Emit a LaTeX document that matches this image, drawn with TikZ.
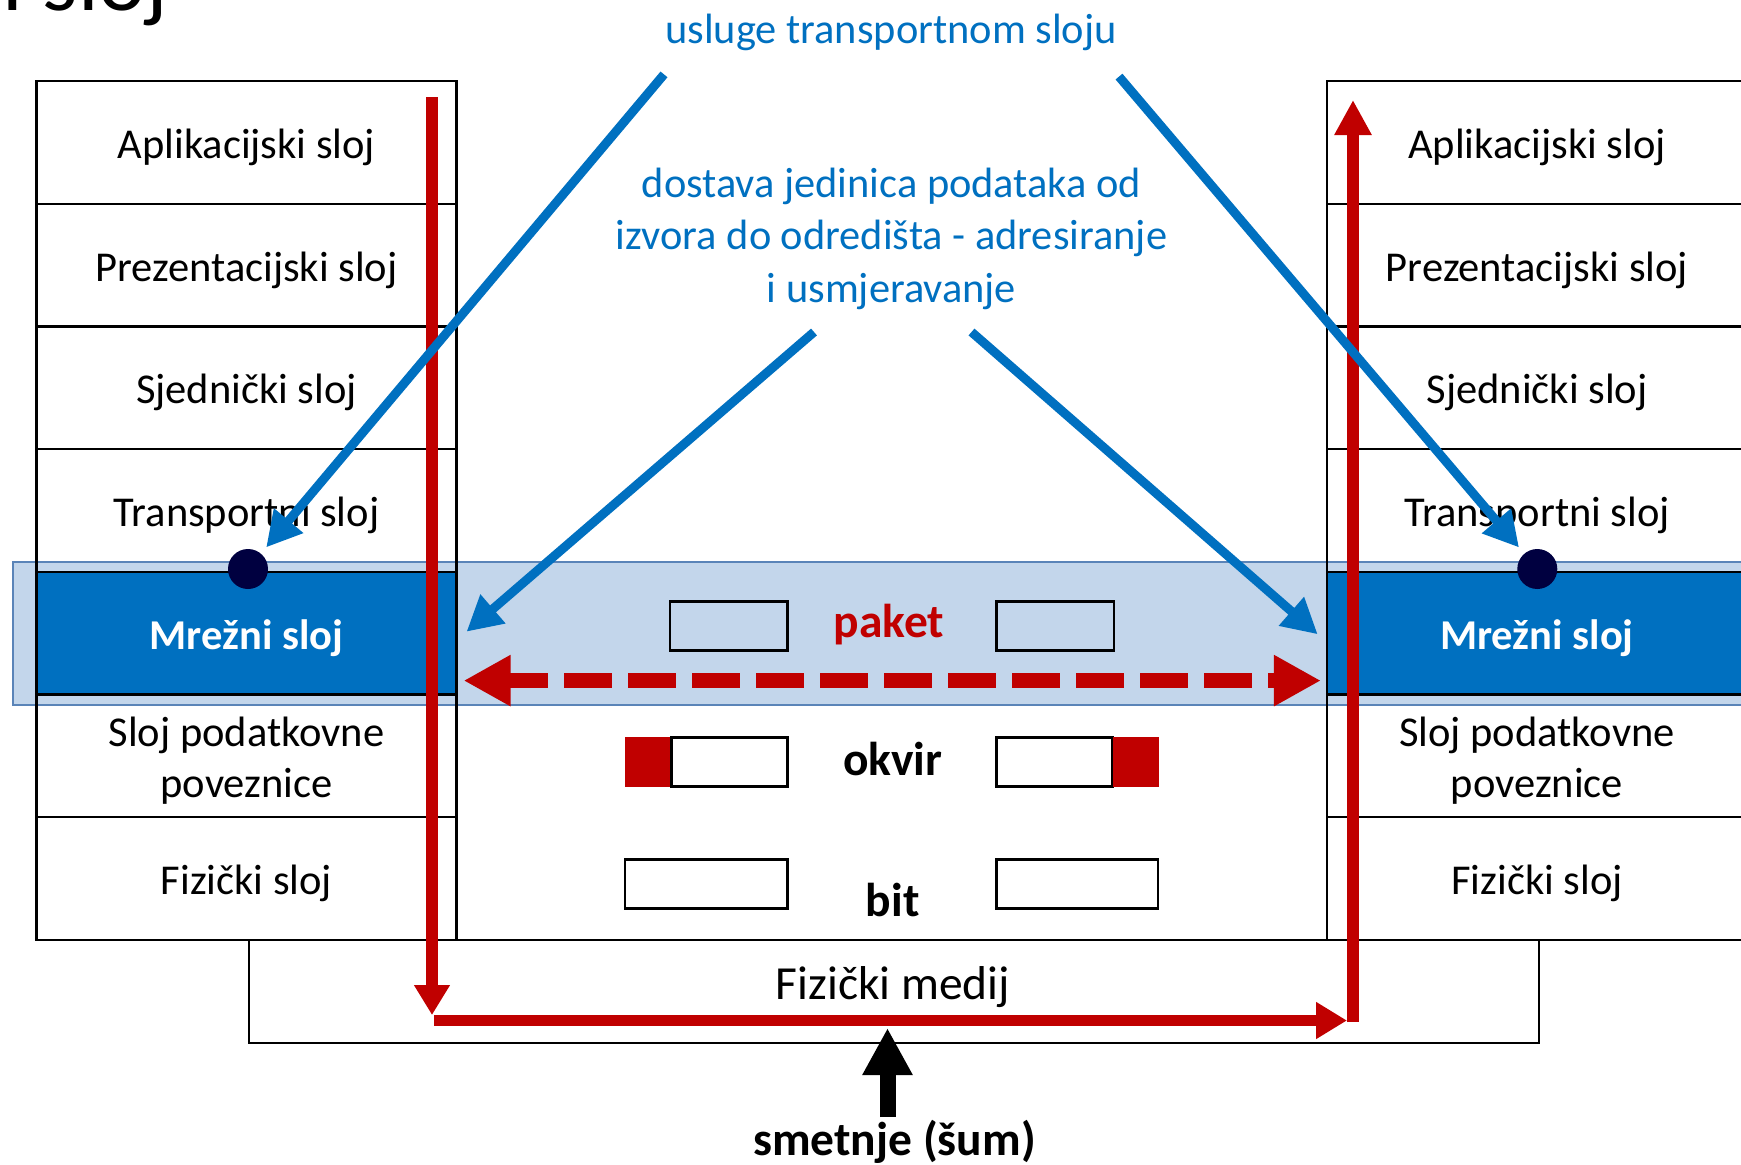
\documentclass[tikz,border=0pt]{standalone}
\usepackage{fontspec}
\setmainfont{Carlito}
\usetikzlibrary{arrows.meta}
\definecolor{cred}{HTML}{C00000}
\definecolor{cblue}{HTML}{0070C0}
\definecolor{cband}{HTML}{C3D6EB}
\definecolor{cbandline}{HTML}{5A84B8}
\definecolor{cnavy}{HTML}{000040}
\begin{document}
\begin{tikzpicture}[x=1pt,y=-1pt,
  layer/.style={draw=black,line width=2.2pt,minimum width=420pt,minimum height=122.7pt,inner sep=0pt,
    font=\fontsize{42.5}{51}\selectfont,align=center},
  oneline/.style={text height=38pt,text depth=5.6pt},
  twoline/.style={font=\fontsize{42.5}{51}\selectfont,align=center,inner sep=0pt},
  netlayer/.style={layer,oneline,fill=cblue,text=white,font=\fontsize{42.5}{51}\selectfont\bfseries},
  pbox/.style={draw=black,line width=2.8pt,inner sep=0pt,minimum height=49pt},
  redfill/.style={fill=cred,inner sep=0pt,minimum height=50pt},
  bluetxt/.style={text=cblue,font=\fontsize{42.4}{51}\selectfont,inner sep=0pt,anchor=base},
  boldlbl/.style={font=\fontsize{47.5}{55}\selectfont\bfseries,inner sep=0pt,anchor=base},
  bluearrow/.style={draw=cblue,line width=9pt,-{Triangle[length=35pt,width=36pt]}},
  redarrow/.style={draw=cred,line width=11.5pt},
  dot/.style={circle,fill=cnavy,minimum size=40pt,inner sep=0pt}
]
\useasboundingbox (0,0) rectangle (1741,1165);

% title fragment
\node[anchor=base east,font=\fontsize{90}{100}\selectfont,inner sep=0pt] (title) at (168,10) {Mrežni sloj};

% network layer band
\path[fill=cband,draw=cbandline,line width=2pt] (13,562) rectangle (1770,705);

% left stack
\node[layer,oneline] (l1) at (246.5,142.35) {Aplikacijski sloj};
\node[layer,oneline] (l2) at (246.5,265.05) {Prezentacijski sloj};
\node[layer,oneline] (l3) at (246.5,387.75) {Sjednički sloj};
\node[layer,oneline] (l4) at (246.5,510.45) {Transportni sloj};
\node[netlayer] (l5) at (246.5,633.15) {Mrežni sloj};
\node[layer] (l6) at (246.5,755.85) {};
\node[twoline] (l6t) at (246.5,760.3) {Sloj podatkovne\\poveznice};
\node[layer,oneline] (l7) at (246.5,878.55) {Fizički sloj};

% right stack
\node[layer,oneline] (r1) at (1537,142.35) {Aplikacijski sloj};
\node[layer,oneline] (r2) at (1537,265.05) {Prezentacijski sloj};
\node[layer,oneline] (r3) at (1537,387.75) {Sjednički sloj};
\node[layer,oneline] (r4) at (1537,510.45) {Transportni sloj};
\node[netlayer] (r5) at (1537,633.15) {Mrežni sloj};
\node[layer] (r6) at (1537,755.85) {};
\node[twoline] (r6t) at (1537,760.3) {Sloj podatkovne\\poveznice};
\node[layer,oneline] (r7) at (1537,878.55) {Fizički sloj};

% physical medium
\node[draw=black,line width=2.8pt,minimum width=1290pt,minimum height=103pt,inner sep=0pt] (med) at (894,991.5) {};
\node[font=\fontsize{47.5}{55}\selectfont,inner sep=0pt,anchor=base] (medt) at (893,999) {Fizički medij};

% packet boxes
\node[pbox,minimum width=117.5pt] (pl) at (728.75,626.2) {};
\node[pbox,minimum width=117.5pt] (pr) at (1055.25,626.2) {};
\node[boldlbl,text=cred] (paket) at (889,637.3) {paket};

% frame boxes
\node[redfill,minimum width=46.6pt] (fhl) at (648.3,761.9) {};
\node[pbox,minimum width=115.9pt] (fl) at (729.55,761.9) {};
\node[pbox,minimum width=116.3pt] (fr) at (1054.65,761.9) {};
\node[redfill,minimum width=45.9pt] (fhr) at (1135.75,761.9) {};
\node[boldlbl] (okvir) at (892.8,775) {okvir};

% bit boxes
\node[pbox,minimum width=162.5pt] (bl) at (706.25,883.85) {};
\node[pbox,minimum width=161.5pt] (br) at (1077.25,883.85) {};
\node[boldlbl] (bit) at (892.8,916.7) {bit};

% blue texts
\node[bluetxt] (usl) at (891,43) {usluge transportnom sloju};
\node[bluetxt] (dos1) at (891.5,197) {dostava jedinica podataka od};
\node[bluetxt] (dos2) at (891.5,249.5) {izvora do odredišta - adresiranje};
\node[bluetxt] (dos3) at (891.5,302) {i usmjeravanje};

% noise
\node[boldlbl] (smet) at (894.6,1155) {smetnje (šum)};
\coordinate (ns) at (887.5,1117);
\coordinate (ne) at (887.5,1028);
\draw[draw=black,line width=16pt,-{Triangle[length=47pt,width=47pt]}] (ns) -- (ne);

% dashed packet arrow
\draw[cred,line width=15pt,dash pattern=on 47.8pt off 16.2pt,dash phase=7.5pt,
  {Triangle[length=47pt,width=48pt]}-{Triangle[length=47pt,width=48pt]}]
  ([shift={(6,-15)}]l5.south east) -- ([shift={(-5,-15)}]r5.south west);

% red path
\coordinate (rA) at (432,97);
\coordinate (rB) at (432,1015);
\coordinate (rC) at (434,1020.5);
\coordinate (rD) at (1347,1020.5);
\coordinate (rE) at (1353,1022);
\coordinate (rF) at (1353,100);
\draw[redarrow,-{Triangle[length=30pt,width=34pt]}] (rA) -- (rB);
\draw[redarrow,-{Triangle[length=31pt,width=35pt]}] (rC) -- (rD);
\draw[redarrow,-{Triangle[length=35pt,width=35pt]}] (rE) -- (rF);

% dots
\node[dot] (ldot) at (248,569) {};
\node[dot] (rdot) at (1537.3,569) {};

% blue arrows
\coordinate (b1) at (664,74.4);
\coordinate (b2) at (1119,76.6);
\coordinate (b3) at (814,332);
\coordinate (b3e) at (466.5,631.7);
\coordinate (b4) at (971.5,332);
\coordinate (b4e) at (1317.7,634.3);
\draw[bluearrow,shorten >=8pt] (b1) -- (ldot);
\draw[bluearrow,shorten >=8pt] (b2) -- (rdot);
\draw[bluearrow] (b3) -- (b3e);
\draw[bluearrow] (b4) -- (b4e);
\end{tikzpicture}
\end{document}
